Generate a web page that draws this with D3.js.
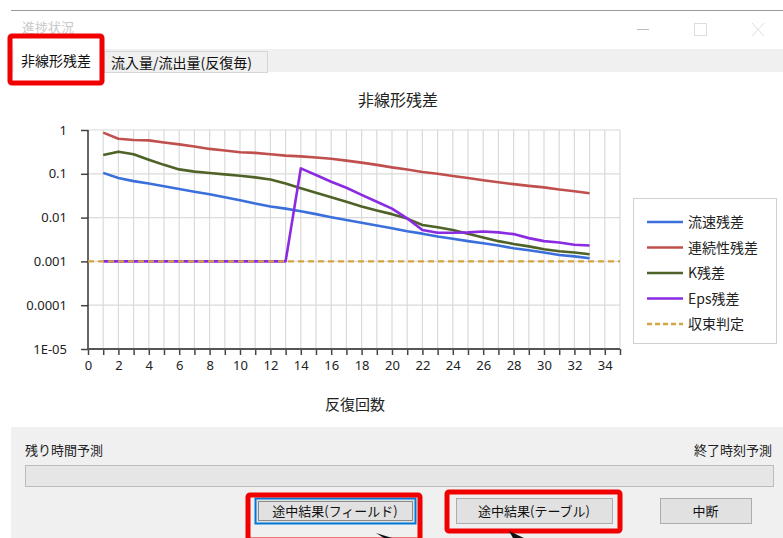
<!DOCTYPE html>
<html>
<head>
<meta charset="utf-8">
<script src="https://cdn.jsdelivr.net/npm/d3@7"></script>
<style>
  body { margin: 0; background: #fff; }
  svg { display: block; font-family: "Noto Sans CJK JP", "Noto Sans", sans-serif; }
</style>
</head>
<body>
<div id="chart"></div>
<script>
// iterations (反復回数)
var iterations = [1,2,3,4,5,6,7,8,9,10,11,12,13,14,15,16,17,18,19,20,21,22,23,24,25,26,27,28,29,30,31,32,33];

// residuals
var velocity = [0.105,0.080,0.068,0.060,0.052,0.045,0.039,0.034,0.029,0.025,0.021,0.018,0.016,0.014,0.012,0.0102,0.0088,0.0076,0.0066,0.0057,0.0049,0.0043,0.0037,0.0033,0.0029,0.0026,0.0023,0.0020,0.0018,0.0016,0.0014,0.0013,0.00118];
var continuity = [0.87,0.63,0.59,0.58,0.52,0.47,0.42,0.37,0.34,0.31,0.30,0.28,0.26,0.25,0.235,0.22,0.20,0.18,0.16,0.14,0.125,0.11,0.10,0.089,0.080,0.071,0.064,0.058,0.053,0.049,0.044,0.040,0.036];
var kRes = [0.27,0.32,0.28,0.21,0.16,0.126,0.112,0.104,0.097,0.090,0.083,0.074,0.060,0.047,0.037,0.029,0.023,0.018,0.0145,0.012,0.0095,0.0068,0.0060,0.0052,0.0043,0.0035,0.0029,0.0025,0.0022,0.0019,0.0017,0.0016,0.00145];
var epsRes = [0.001,0.001,0.001,0.001,0.001,0.001,0.001,0.001,0.001,0.001,0.001,0.001,0.001,0.133,0.094,0.066,0.048,0.033,0.023,0.016,0.0096,0.0052,0.0045,0.0045,0.0046,0.0048,0.0046,0.0042,0.0034,0.0029,0.0027,0.0024,0.0023];
var threshold = 0.001;

var seriesNames = ['流速残差', '連続性残差', 'K残差', 'Eps残差', '収束判定'];
var seriesColors = ['#3b6fdc', '#c0504d', '#4f6228', '#8a2be2', '#d4a443'];
var xTicks = [0,2,4,6,8,10,12,14,16,18,20,22,24,26,28,30,32,34];
var yTicks = [1, 0.1, 0.01, 0.001, 0.0001, 0.00001];
var yTickLabels = ['1', '0.1', '0.01', '0.001', '0.0001', '1E-05'];

var W = 783, H = 538;
var svg = d3.select('#chart').append('svg').attr('width', W).attr('height', H);

// ---- window chrome ----
svg.append('line').attr('x1', 11).attr('x2', W).attr('y1', 10.5).attr('y2', 10.5)
  .attr('stroke', '#9a9a9a').attr('stroke-width', 1);
svg.append('text').attr('x', 22).attr('y', 32).attr('font-size', 13).attr('fill', '#c8c8c8').text('進捗状況');
svg.append('line').attr('x1', 637).attr('x2', 649).attr('y1', 29.5).attr('y2', 29.5).attr('stroke', '#bbb');
svg.append('rect').attr('x', 694.5).attr('y', 23.5).attr('width', 12).attr('height', 12).attr('fill', 'none').attr('stroke', '#ddd');
svg.append('path').attr('d', 'M752,23 L764,36 M764,23 L752,36').attr('stroke', '#ddd');

// tab strip
svg.append('rect').attr('x', 11).attr('y', 49).attr('width', W - 11).attr('height', 23).attr('fill', '#f0f0f0');
svg.append('rect').attr('x', 104.5).attr('y', 51.5).attr('width', 163).attr('height', 21).attr('fill', '#f0f0f0').attr('stroke', '#d6d6d6');
svg.append('text').attr('x', 111).attr('y', 68).attr('font-size', 14).attr('fill', '#111').text('流入量/流出量(反復毎)');
svg.append('rect').attr('x', 14).attr('y', 40).attr('width', 88).attr('height', 38).attr('fill', '#fff');
svg.append('text').attr('x', 21).attr('y', 66).attr('font-size', 14).attr('fill', '#111').text('非線形残差');
svg.append('rect').attr('x', 10).attr('y', 36).attr('width', 92).attr('height', 47).attr('rx', 2)
  .attr('fill', 'none').attr('stroke', '#f00000').attr('stroke-width', 5);

// ---- chart ----
var x = d3.scaleLinear().domain([0, 35]).range([88, 620]);
var y = d3.scaleLog().domain([1e-5, 1]).range([349, 130]);

svg.append('text').attr('x', 398).attr('y', 106).attr('text-anchor', 'middle')
  .attr('font-size', 16).attr('fill', '#222').text('非線形残差');

var grid = svg.append('g').attr('stroke', '#dadada').attr('stroke-width', 1.2);
grid.selectAll('.vg').data(d3.range(1, 36)).enter().append('line')
  .attr('x1', function(d) { return x(d); }).attr('x2', function(d) { return x(d); })
  .attr('y1', y(1)).attr('y2', y(1e-5));
grid.selectAll('.hg').data(yTicks).enter().append('line')
  .attr('x1', x(0)).attr('x2', x(35))
  .attr('y1', function(d) { return y(d); }).attr('y2', function(d) { return y(d); });

// axes
var yAxis = d3.axisLeft(y).tickValues(yTicks)
  .tickFormat(function(d, i) { return yTickLabels[i]; }).tickSize(7).tickPadding(14);
var gy = svg.append('g').attr('transform', 'translate(' + x(0) + ',0)').call(yAxis);
gy.select('.domain').remove();
svg.append('line').attr('x1', x(0)).attr('x2', x(0)).attr('y1', y(1)).attr('y2', y(1e-5))
  .attr('stroke', '#333').attr('stroke-width', 1.5);

var xAxis = d3.axisBottom(x).tickValues(d3.range(0, 36)).tickSize(6).tickPadding(6)
  .tickFormat(function(d) { return xTicks.indexOf(d) >= 0 ? d : ''; });
var gx = svg.append('g').attr('transform', 'translate(0,' + y(1e-5) + ')').call(xAxis);
gx.select('.domain').remove();
svg.append('line').attr('x1', x(0)).attr('x2', x(35)).attr('y1', y(1e-5)).attr('y2', y(1e-5))
  .attr('stroke', '#555').attr('stroke-width', 2);

svg.selectAll('.tick line').attr('stroke', '#444').attr('stroke-width', 1.5);
svg.selectAll('.tick text').attr('font-size', 13).attr('fill', '#222')
  .attr('font-family', '"Noto Sans", sans-serif');

svg.append('text').attr('x', 355).attr('y', 410).attr('text-anchor', 'middle')
  .attr('font-size', 15).attr('fill', '#222').text('反復回数');

// lines
var line = d3.line()
  .x(function(d, i) { return x(iterations[i]); })
  .y(function(d) { return y(d); });

var allSeries = [velocity, continuity, kRes, epsRes];
allSeries.forEach(function(s, k) {
  svg.append('path').datum(s).attr('d', line).attr('fill', 'none')
    .attr('stroke', seriesColors[k]).attr('stroke-width', 2.6).attr('stroke-linejoin', 'round');
});
svg.append('line').attr('x1', x(0)).attr('x2', x(35)).attr('y1', y(threshold)).attr('y2', y(threshold))
  .attr('stroke', seriesColors[4]).attr('stroke-width', 2.4).attr('stroke-dasharray', '6,4');

// legend
var lg = svg.append('g').attr('transform', 'translate(633,198)');
lg.append('rect').attr('x', 0.5).attr('y', 0.5).attr('width', 143).attr('height', 145)
  .attr('fill', '#fff').attr('stroke', '#d0d0d0');
var item = lg.selectAll('.item').data(seriesNames).enter().append('g')
  .attr('transform', function(d, i) { return 'translate(0,' + (24 + i * 25.5) + ')'; });
item.append('line').attr('x1', 14).attr('x2', 50).attr('y1', 0).attr('y2', 0)
  .attr('stroke', function(d, i) { return seriesColors[i]; }).attr('stroke-width', 2.6)
  .attr('stroke-dasharray', function(d, i) { return i === 4 ? '5,3' : null; });
item.append('text').attr('x', 55).attr('y', 5).attr('font-size', 14).attr('fill', '#222')
  .text(function(d) { return d; });

// ---- bottom panel ----
svg.append('rect').attr('x', 11).attr('y', 427).attr('width', W - 11).attr('height', H - 427).attr('fill', '#f0f0f0');
svg.append('text').attr('x', 25).attr('y', 455).attr('font-size', 13).attr('fill', '#222').text('残り時間予測');
svg.append('text').attr('x', 772).attr('y', 455).attr('text-anchor', 'end').attr('font-size', 13).attr('fill', '#222').text('終了時刻予測');
svg.append('rect').attr('x', 25.5).attr('y', 465.5).attr('width', 748).attr('height', 21)
  .attr('fill', '#e6e6e6').attr('stroke', '#bcbcbc');

function button(x0, w, label, focused) {
  svg.append('rect').attr('x', x0 + 0.5).attr('y', 498.5).attr('width', w).attr('height', 25)
    .attr('fill', '#e1e1e1').attr('stroke', focused ? '#0078d7' : '#adadad').attr('stroke-width', focused ? 2 : 1);
  if (focused) {
    svg.append('rect').attr('x', x0 + 3.5).attr('y', 501.5).attr('width', w - 6).attr('height', 19)
      .attr('fill', 'none').attr('stroke', '#333').attr('stroke-dasharray', '1,1');
  }
  svg.append('text').attr('x', x0 + w / 2).attr('y', 516).attr('text-anchor', 'middle')
    .attr('font-size', 13).attr('fill', '#111').text(label);
}
button(255, 160, '途中結果(フィールド)', true);
button(456, 156, '途中結果(テーブル)', false);
button(660, 91, '中断', false);

svg.append('rect').attr('x', 248).attr('y', 495).attr('width', 172).attr('height', 45).attr('rx', 2)
  .attr('fill', 'none').attr('stroke', '#f00000').attr('stroke-width', 5);
svg.append('rect').attr('x', 447).attr('y', 492).attr('width', 173).attr('height', 39).attr('rx', 2)
  .attr('fill', 'none').attr('stroke', '#f00000').attr('stroke-width', 5);

// cursors
svg.append('path').attr('d', 'M376,533 L392,538 L384,538 Z').attr('fill', '#111');
svg.append('path').attr('d', 'M509,531 L524,538 L513,538 Z').attr('fill', '#111');
</script>
</body>
</html>
